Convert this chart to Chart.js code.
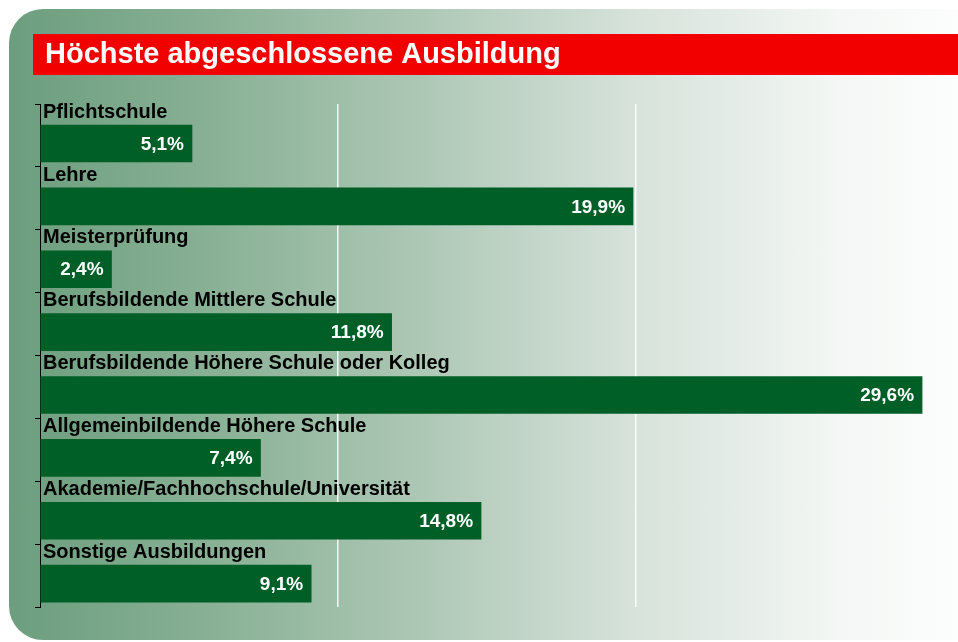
<!DOCTYPE html>
<html lang="de">
<head>
<meta charset="utf-8">
<title>Höchste abgeschlossene Ausbildung</title>
<script src="https://cdn.jsdelivr.net/npm/chart.js@4.4.1/dist/chart.umd.min.js"></script>
<style>
  html, body { margin: 0; padding: 0; background: #fff; }
  #wrap { position: relative; width: 958px; height: 642px; overflow: hidden; }
  #panel {
    position: absolute; left: 9px; top: 9px; width: 990px; height: 631px;
    border-radius: 34px 0 0 34px;
    background: linear-gradient(to right, #6c9e7e 0%, #88b094 20%, #aec8b6 42%, #d6e2da 63%, #f4f7f5 84%, #ffffff 100%);
  }
  canvas { position: absolute; left: 0; top: 0; }
</style>
</head>
<body>
<div id="wrap">
  <div id="panel"></div>
  <canvas id="chart" width="958" height="642"></canvas>
</div>
<script>
// Daten
const titleText = 'Höchste abgeschlossene Ausbildung';
const categories = [
  'Pflichtschule',
  'Lehre',
  'Meisterprüfung',
  'Berufsbildende Mittlere Schule',
  'Berufsbildende Höhere Schule oder Kolleg',
  'Allgemeinbildende Höhere Schule',
  'Akademie/Fachhochschule/Universität',
  'Sonstige Ausbildungen'
];
const shares = [5.1, 19.9, 2.4, 11.8, 29.6, 7.4, 14.8, 9.1];
const gridTicks = [10, 20];

// Lage innerhalb eines Kategoriebandes (0 = oben, 1 = unten)
const BAR_POS = 0.628;
const LABEL_POS = 0.115;
const FONT = '"Liberation Sans", Arial, sans-serif';

const fmt = v => v.toFixed(1).replace('.', ',') + '%';

// Titelbalken
const titleBar = {
  id: 'titleBar',
  beforeDraw(chart) {
    const ctx = chart.ctx;
    ctx.save();
    ctx.fillStyle = '#f20000';
    ctx.fillRect(33, 34, 930, 41);
    ctx.fillStyle = '#ffffff';
    ctx.font = 'bold 29px ' + FONT;
    ctx.textBaseline = 'middle';
    ctx.textAlign = 'left';
    ctx.fillText(titleText, 45, 55);
    ctx.restore();
  }
};

// Kategorie- und Wertbeschriftungen
const barLabels = {
  id: 'barLabels',
  afterDatasetsDraw(chart) {
    const ctx = chart.ctx;
    const yScale = chart.scales.y;
    const meta = chart.getDatasetMeta(0);
    ctx.save();
    ctx.textBaseline = 'middle';
    categories.forEach((name, i) => {
      ctx.font = 'bold 20px ' + FONT;
      ctx.fillStyle = '#000000';
      ctx.textAlign = 'left';
      ctx.fillText(name, chart.chartArea.left + 3, yScale.getPixelForValue(i + LABEL_POS) + 1);
      const bar = meta.data[i];
      ctx.font = 'bold 19px ' + FONT;
      ctx.fillStyle = '#ffffff';
      ctx.textAlign = 'right';
      ctx.fillText(fmt(shares[i]), bar.x - 8, bar.y + 1);
    });
    ctx.restore();
  }
};

new Chart(document.getElementById('chart'), {
  type: 'bar',
  data: {
    datasets: [{
      data: shares.map((v, i) => ({ x: v, y: i + BAR_POS })),
      backgroundColor: '#005f27',
      borderWidth: 0,
      barThickness: 37
    }]
  },
  options: {
    indexAxis: 'y',
    responsive: false,
    devicePixelRatio: 1,
    animation: false,
    layout: { padding: { left: 35, right: 24, top: 104, bottom: 35 } },
    plugins: {
      legend: { display: false },
      tooltip: { enabled: false },
      title: { display: false }
    },
    scales: {
      x: {
        type: 'linear',
        min: 0,
        max: 30,
        ticks: { display: false, stepSize: 10 },
        border: { display: false },
        grid: {
          drawTicks: false,
          lineWidth: 1.5,
          color: c => gridTicks.includes(c.tick.value) ? 'rgba(255,255,255,0.9)' : 'rgba(0,0,0,0)'
        }
      },
      y: {
        type: 'linear',
        min: 0,
        max: categories.length,
        reverse: true,
        offset: false,
        ticks: { display: false, stepSize: 1 },
        border: { display: true, color: '#000000', width: 1 },
        grid: {
          offset: false,
          drawOnChartArea: false,
          drawTicks: true,
          tickLength: 5,
          color: '#000000'
        }
      }
    }
  },
  plugins: [titleBar, barLabels]
});
</script>
</body>
</html>
